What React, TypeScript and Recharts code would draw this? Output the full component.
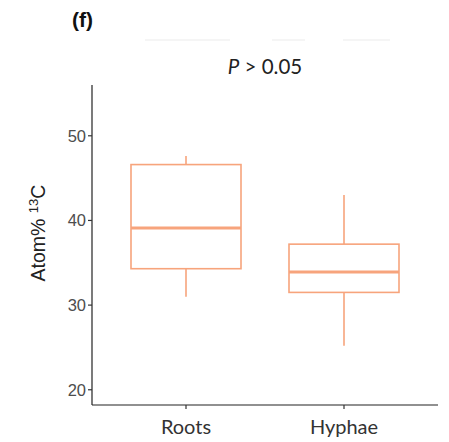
import React from 'react';
import { ComposedChart, Bar, XAxis, YAxis, Customized } from 'recharts';

const categories = ['Roots', 'Hyphae'];
const whiskerLow = [31.0, 25.2];
const q1 = [34.3, 31.5];
const median = [39.1, 33.9];
const q3 = [46.6, 37.2];
const whiskerHigh = [47.6, 43.0];
const yTicks = [20, 30, 40, 50];
const yDomain = [18.2, 56];
const title = '(f)';
const pLabel = '> 0.05';

const BOX_COLOR = '#F7A47C';

const data = categories.map((name, i) => ({
  name,
  range: [whiskerLow[i], whiskerHigh[i]],
  wl: whiskerLow[i],
  q1: q1[i],
  med: median[i],
  q3: q3[i],
  wh: whiskerHigh[i],
}));

const BoxShape = (props: any) => {
  const { x, y, width, height, payload } = props;
  const top = Math.min(y, y + height);
  const bottom = Math.max(y, y + height);
  const lo = payload.wl;
  const hi = payload.wh;
  const px = (bottom - top) / (hi - lo);
  const toY = (v: number) => bottom - (v - lo) * px;
  const cx = x + width / 2;
  const yq1 = toY(payload.q1);
  const yq3 = toY(payload.q3);
  const ym = toY(payload.med);
  return (
    <g>
      <line x1={cx} x2={cx} y1={toY(hi)} y2={yq3} stroke={BOX_COLOR} strokeWidth={1.6} />
      <line x1={cx} x2={cx} y1={yq1} y2={toY(lo)} stroke={BOX_COLOR} strokeWidth={1.6} />
      <rect x={x} y={yq3} width={width} height={yq1 - yq3} fill="#ffffff" stroke={BOX_COLOR} strokeWidth={1.6} />
      <line x1={x} x2={x + width} y1={ym} y2={ym} stroke={BOX_COLOR} strokeWidth={3} />
    </g>
  );
};

const YLabel = (props: any) => {
  const { viewBox } = props;
  const cy = viewBox.y + viewBox.height / 2 - 12;
  const lx = 45;
  return (
    <text
      x={lx}
      y={cy}
      transform={`rotate(-90, ${lx}, ${cy})`}
      textAnchor="middle"
      fontFamily="'Liberation Sans', Arial, sans-serif"
      fontSize={19.5}
      fill="#222"
    >
      Atom%{' '}
      <tspan fontSize={13} dy={-7}>13</tspan>
      <tspan dy={7}>C</tspan>
    </text>
  );
};

const Titles = (props: any) => {
  const off = props.offset || { left: 92, width: 346 };
  const cx = off.left + off.width / 2;
  return (
    <g>
      <text x={72} y={27} fontFamily="'Liberation Sans', Arial, sans-serif" fontWeight="bold" fontSize={21} fill="#111">
        {title}
      </text>
      <line x1={145} x2={230} y1={40} y2={40} stroke="#f2f2f2" strokeWidth={1.5} />
      <line x1={272} x2={305} y1={40} y2={40} stroke="#f2f2f2" strokeWidth={1.5} />
      <line x1={343} x2={390} y1={40} y2={40} stroke="#f2f2f2" strokeWidth={1.5} />
      <text x={cx} y={74} textAnchor="middle" fontFamily="Lato, 'Open Sans', sans-serif" fontSize={20.5} fill="#222">
        <tspan fontStyle="italic">P</tspan> {pLabel}
      </text>
    </g>
  );
};

export default function App() {
  return (
    <div style={{ position: 'absolute', left: 0, top: 0, background: '#fff' }}>
      <ComposedChart
        width={449}
        height={442}
        data={data}
        margin={{ top: 85, right: 11, bottom: 0, left: 0 }}
        barSize={110}
      >
        <XAxis
          dataKey="name"
          type="category"
          padding={{ left: 15, right: 15 }}
          height={37}
          tickSize={4}
          tickMargin={11}
          axisLine={{ stroke: '#222', strokeWidth: 1.2 }}
          tickLine={{ stroke: '#333', strokeWidth: 1.2 }}
          tick={{ fill: '#333', fontSize: 20, fontFamily: 'Lato, sans-serif' }}
        />
        <YAxis
          type="number"
          domain={yDomain}
          ticks={yTicks}
          allowDataOverflow
          width={92}
          tickSize={4}
          tickMargin={2}
          axisLine={{ stroke: '#222', strokeWidth: 1.2 }}
          tickLine={{ stroke: '#333', strokeWidth: 1.2 }}
          tick={{ fill: '#4d4d4d', fontSize: 16.5, fontFamily: "'Liberation Sans', Arial, sans-serif" }}
          label={<YLabel />}
        />
        <Bar dataKey="range" shape={<BoxShape />} isAnimationActive={false} />
        <Customized component={<Titles />} />
      </ComposedChart>
    </div>
  );
}
